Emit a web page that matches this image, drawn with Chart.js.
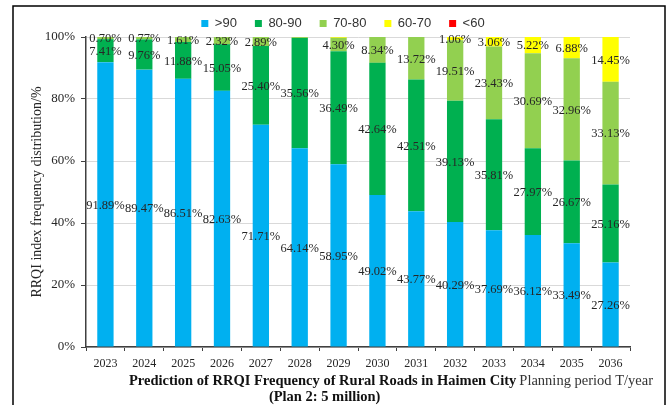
<!DOCTYPE html>
<html>

<head>
    <title>RRQI Frequency Prediction</title>
    <script src="https://cdn.jsdelivr.net/npm/chart.js"></script>
    <style>
        body { margin: 0; background: #fff; }
        #wrap { width: 669px; height: 405px; }
    </style>
</head>

<body>
    <div id="wrap">
        <canvas id="rrqiChart" width="669" height="405"></canvas>
    </div>

    <script>
        // planning years
        const years = ['2023', '2024', '2025', '2026', '2027', '2028', '2029',
            '2030', '2031', '2032', '2033', '2034', '2035', '2036'];

        // share of road length (%) by RRQI band
        const above90 = [91.89, 89.47, 86.51, 82.63, 71.71, 64.14, 58.95, 49.02, 43.77, 40.29, 37.69, 36.12, 33.49, 27.26];
        const from80to90 = [7.41, 9.76, 11.88, 15.05, 25.40, 35.56, 36.49, 42.64, 42.51, 39.13, 35.81, 27.97, 26.67, 25.16];
        const from70to80 = [0.70, 0.77, 1.61, 2.32, 2.89, 0.30, 4.30, 8.34, 13.72, 19.51, 23.43, 30.69, 32.96, 33.13];
        const from60to70 = [0, 0, 0, 0, 0, 0, 0.26, 0, 0, 1.06, 3.06, 5.22, 6.88, 14.45];
        const below60 = [0, 0, 0, 0, 0, 0, 0, 0, 0, 0, 0, 0, 0, 0];

        const yTicks = [0, 20, 40, 60, 80, 100];

        const serif = '"Liberation Serif", "Times New Roman", serif';
        const sans = '"Liberation Sans", Arial, sans-serif';

        // percentage text in the middle of each segment
        const valueLabels = {
            id: 'valueLabels',
            afterDatasetsDraw(chart) {
                const ctx = chart.ctx;
                ctx.save();
                ctx.font = '12.5px ' + serif;
                ctx.fillStyle = '#262626';
                ctx.textAlign = 'center';
                ctx.textBaseline = 'middle';
                chart.data.datasets.forEach((ds, i) => {
                    const meta = chart.getDatasetMeta(i);
                    meta.data.forEach((bar, j) => {
                        const v = ds.data[j];
                        if (v < 0.5) return;
                        const p = bar.getProps(['x', 'y', 'base'], true);
                        ctx.fillText(v.toFixed(2) + '%', p.x, (p.y + p.base) / 2 + 1);
                    });
                });
                ctx.restore();
            }
        };

        // keep the legend row short and nudge it right, like the original
        const legendPlacement = {
            id: 'legendPlacement',
            beforeLayout(chart) {
                const lg = chart.legend;
                if (lg && !lg._fixedFit) {
                    const fit = lg.fit.bind(lg);
                    lg.fit = function () { fit(); this.height = 37; };
                    lg._fixedFit = true;
                }
            },
            afterLayout(chart) {
                const lg = chart.legend;
                lg.left += 28;
                lg.right += 28;
                lg.top -= 1;
                lg.bottom -= 1;
            }
        };

        // frame and the caption under the axis
        const frameAndCaption = {
            id: 'frameAndCaption',
            afterDraw(chart) {
                const ctx = chart.ctx;
                ctx.save();
                ctx.strokeStyle = '#000';
                ctx.lineWidth = 1.5;
                ctx.strokeRect(13, 6, 652, 420);

                ctx.fillStyle = '#111';
                ctx.textBaseline = 'middle';
                ctx.textAlign = 'left';
                ctx.font = 'bold 14.5px ' + serif;
                const line1 = 'Prediction of RRQI Frequency of Rural Roads in Haimen City';
                const w1 = ctx.measureText(line1).width;
                const x1 = 129;
                ctx.fillText(line1, x1, 381);
                ctx.textAlign = 'center';
                ctx.fillText('(Plan 2: 5 million)', x1 + w1 / 2 + 2, 397);

                ctx.textAlign = 'left';
                ctx.font = '14.5px ' + serif;
                ctx.fillStyle = '#333';
                ctx.fillText('Planning period T/year', x1 + w1 + 3, 381);
                ctx.restore();
            }
        };

        const ctx = document.getElementById('rrqiChart').getContext('2d');
        new Chart(ctx, {
            type: 'bar',
            data: {
                labels: years,
                datasets: [
                    { label: '>90', data: above90, backgroundColor: '#00B0F0' },
                    { label: '80-90', data: from80to90, backgroundColor: '#00B050' },
                    { label: '70-80', data: from70to80, backgroundColor: '#92D050' },
                    { label: '60-70', data: from60to70, backgroundColor: '#FFFF00' },
                    { label: '<60', data: below60, backgroundColor: '#FF0000' }
                ]
            },
            options: {
                responsive: false,
                animation: false,
                barPercentage: 0.42,
                categoryPercentage: 1.0,
                layout: { padding: { top: 0, right: 39, bottom: 0, left: 0 } },
                plugins: {
                    tooltip: { enabled: false },
                    legend: {
                        position: 'top',
                        labels: {
                            boxWidth: 7,
                            boxHeight: 7,
                            padding: 18,
                            color: '#333',
                            font: { family: sans, size: 13 }
                        }
                    }
                },
                scales: {
                    x: {
                        stacked: true,
                        grid: {
                            offset: true,
                            drawOnChartArea: false,
                            tickColor: '#404040',
                            tickLength: 4
                        },
                        border: { color: '#404040', width: 1.5 },
                        ticks: {
                            color: '#262626',
                            padding: 6,
                            font: { family: serif, size: 12 },
                            maxRotation: 0
                        },
                        afterFit(scale) { scale.height = 58; }
                    },
                    y: {
                        stacked: true,
                        min: 0,
                        max: 100,
                        afterBuildTicks(scale) {
                            scale.ticks = yTicks.map(v => ({ value: v }));
                        },
                        grid: {
                            color: '#D9D9D9',
                            tickColor: '#404040',
                            tickLength: 5
                        },
                        border: { color: '#404040', width: 1.5 },
                        ticks: {
                            color: '#262626',
                            padding: 6,
                            font: { family: serif, size: 13 },
                            callback: v => v + '%'
                        },
                        title: {
                            display: true,
                            text: 'RRQI index frequency distribution/%',
                            color: '#262626',
                            font: { family: serif, size: 14 },
                            padding: { top: 29, bottom: 0 }
                        },
                        afterFit(scale) { scale.width = 86; }
                    }
                }
            },
            plugins: [legendPlacement, valueLabels, frameAndCaption]
        });
    </script>
</body>

</html>
